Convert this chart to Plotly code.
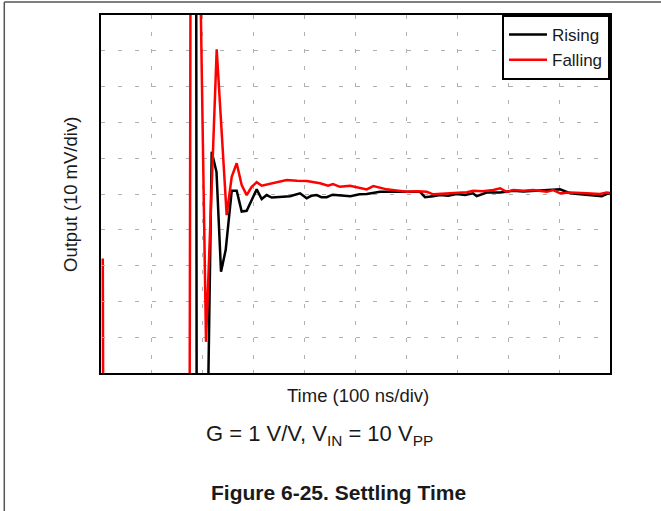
import plotly.graph_objects as go

# time in ns (100 ns/div), output in mV (10 mV/div), 0 mV = final value
rising_t = [0, 187, 188, 209, 217.5, 226.9, 235.8, 245, 256.8, 266.6, 276.4, 286.2, 296.1, 305.9,
            315.7, 325.5, 335.4, 352, 371.3, 391, 404.1, 413, 423.8, 433, 443.4, 455, 469.5, 490,
            508, 522, 548.1, 575, 600.6, 626.7, 636.5, 652.3, 666, 682, 698.8, 715, 730.8, 738.1,
            757.8, 783.9, 809.4, 830, 848.7, 875.6, 901.8, 921.4, 947, 966.6, 983.7, 996.7, 1000]
rising_v = [70, 70, -70, -70, 11.8, 6.2, -21.7, -15.6, 0.9, 0.9, -4.9, -4.7, -1.7, 1.3,
            -1.4, -0.3, -1.0, -0.8, -0.6, 0.2, -1.2, -0.5, -0.3, -0.9, -0.9, -0.2, -0.3, -0.6,
            -0.1, 0.0, 0.6, 0.5, 0.6, 0.6, -0.9, -0.6, -0.3, -0.5, 0.0, -0.3, 0.2, -0.6,
            0.4, 0.4, 0.9, 0.7, 0.9, 1.1, 1.3, 0.2, -0.1, -0.3, -0.6, 0.2, 0.0]

falling_t = [3.5, 4.5, 174, 176, 194, 206.3, 227.3, 246.9, 256.8, 266.6, 276.4, 286.2, 296.1, 305.9,
             315.7, 330, 345.2, 364.8, 385, 404.1, 430.3, 446, 455.8, 469.5, 489.2, 522, 535,
             561.3, 580, 600.6, 620, 639.9, 652.8, 679.2, 700, 718.5, 731.5, 750, 770.7, 783.9,
             797, 810, 830, 849.3, 875.6, 888.6, 901.8, 921.4, 954.2, 980.4, 993.5, 1000]
falling_v = [-18, -70, -70, 70, 70, -41.3, 40.4, -5.9, 4.8, 8.6, 2.5, -0.3, 2.0, 3.3,
             2.3, 2.8, 3.4, 3.9, 3.7, 3.6, 3.0, 2.3, 2.8, 2.0, 2.3, 1.3, 2.2,
             1.3, 1.0, 0.6, 0.8, 0.6, -0.1, 0.2, 0.4, 0.5, 0.9, 0.8, 1.1, 1.6,
             0.6, 1.1, 0.9, 1.1, 0.6, 1.1, 0.2, 0.4, 0.2, 0.0, 0.4, 0.3]

FONT = "Liberation Sans, Arial, sans-serif"

fig = go.Figure()
fig.add_trace(go.Scatter(x=rising_t, y=rising_v, mode="lines", name="Rising",
                         line=dict(color="black", width=2.5)))
fig.add_trace(go.Scatter(x=falling_t, y=falling_v, mode="lines", name="Falling",
                         line=dict(color="#ff0000", width=2.5)))

axis_common = dict(
    showticklabels=False,
    showgrid=True, gridcolor="#b0b0b0", gridwidth=1, griddash="4px,13px",
    zeroline=False,
    showline=True, linecolor="black", linewidth=2, mirror=True,
    ticks="inside", ticklen=3, tickcolor="#b0b0b0",
)
fig.update_xaxes(range=[0, 1000], dtick=100, **axis_common)
fig.update_yaxes(range=[-50, 50], dtick=10, **axis_common)

annotations = [
    dict(text="Output (10 mV/div)", x=-0.061, y=0.5, textangle=-90, font=dict(size=18.5)),
    dict(text="Time (100 ns/div)", x=0.505, y=-0.0615, font=dict(size=18.5)),
    dict(text="G = 1 V/V, V<sub>IN</sub> = 10 V<sub>PP</sub>", x=0.43, y=-0.172, font=dict(size=22)),
    dict(text="<b>Figure 6-25. Settling Time</b>", x=0.466, y=-0.335, font=dict(size=21)),
]
for a in annotations:
    a.update(xref="paper", yref="paper", showarrow=False, xanchor="center", yanchor="middle")

fig.update_layout(
    width=661, height=511,
    margin=dict(l=101, r=51, t=15, b=138),
    paper_bgcolor="white", plot_bgcolor="white",
    font=dict(family=FONT, color="#1a1a1a"),
    showlegend=True,
    legend=dict(x=1, y=1, xanchor="right", yanchor="top", bgcolor="white",
                bordercolor="black", borderwidth=2, font=dict(size=17),
                itemwidth=38),
    annotations=annotations,
    shapes=[
        # page frame lines (top and left)
        dict(type="line", xref="paper", yref="paper", x0=-0.19, x1=1.11, y0=1.036, y1=1.036,
             line=dict(color="#555", width=1.5)),
        dict(type="line", xref="paper", yref="paper", x0=-0.19, x1=-0.19, y0=1.036, y1=-0.4,
             line=dict(color="#555", width=1.5)),
    ],
)

# drop the default body margin so the figure sits at the page origin
fig.write_html("out.html", config={"displayModeBar": False},
               post_script="document.body.style.margin='0';")
